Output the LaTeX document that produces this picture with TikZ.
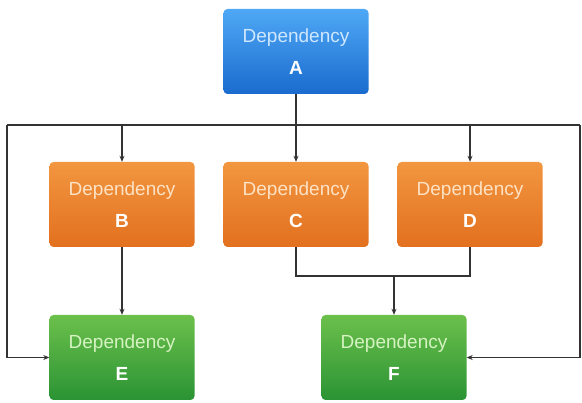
\documentclass[tikz,border=0pt]{standalone}
\usepackage{fontspec}
\setmainfont{Liberation Sans}
\usetikzlibrary{positioning,arrows.meta}

\definecolor{depBlueTop}{HTML}{4FA8F5}
\definecolor{depBlueBot}{HTML}{1A6BCE}
\definecolor{depBlueTxt}{HTML}{CFE7FF}
\definecolor{depOrangeTop}{HTML}{F29640}
\definecolor{depOrangeBot}{HTML}{E2701F}
\definecolor{depOrangeTxt}{HTML}{FDE2C4}
\definecolor{depGreenTop}{HTML}{6CC04B}
\definecolor{depGreenBot}{HTML}{2A9334}
\definecolor{depGreenTxt}{HTML}{D6F3C2}
\definecolor{wireGray}{HTML}{333333}

\newcommand{\deplabel}[1]{Dependency\\[4pt]{\color{white}\bfseries #1}}

\begin{document}
\begin{tikzpicture}[x=1pt,y=1pt,node distance=153pt and 174pt,on grid,
    dep/.style={rounded corners=4pt,minimum width=145pt,minimum height=85pt,
                align=center,font=\fontsize{19}{28}\selectfont},
    blue dep/.style={dep,top color=depBlueTop,bottom color=depBlueBot,text=depBlueTxt},
    orange dep/.style={dep,top color=depOrangeTop,bottom color=depOrangeBot,text=depOrangeTxt},
    green dep/.style={dep,top color=depGreenTop,bottom color=depGreenBot,text=depGreenTxt},
    wire/.style={draw=wireGray,line width=1.2pt},
    >={Stealth[length=6pt,width=5pt]}]
   \useasboundingbox (0,0) rectangle (582,-403);
   \node[blue dep] (A) at (296,-51.5) {\deplabel{A}};
   \node[orange dep] (C) [below=of A] {\deplabel{C}};
   \node[orange dep] (B) [left=of C] {\deplabel{B}};
   \node[orange dep] (D) [right=of C] {\deplabel{D}};
   \node[green dep] (E) [below=of B] {\deplabel{E}};
   \node[green dep] (F) [below right=153pt and 98pt of C] {\deplabel{F}};
   \coordinate (busL) at (7,-125);
   \coordinate (busR) at (580,-125);
   \coordinate (join) at (F.north |- 0,-276);
   % bus from A
   \draw[wire] (busL) -- (busR);
   \draw[wire,->] (A) -- (C);
   \draw[wire,->] (B.north |- busL) -- (B.north);
   \draw[wire,->] (D.north |- busL) -- (D.north);
   \draw[wire,->] (busL) |- (E.west);
   \draw[wire,->] (busR) |- (F.east);
   % lower level
   \draw[wire,->] (B) -- (E);
   \draw[wire] (C.south) |- (join) -| (D.south);
   \draw[wire,->] (join) -- (F.north);
\end{tikzpicture}
\end{document}
